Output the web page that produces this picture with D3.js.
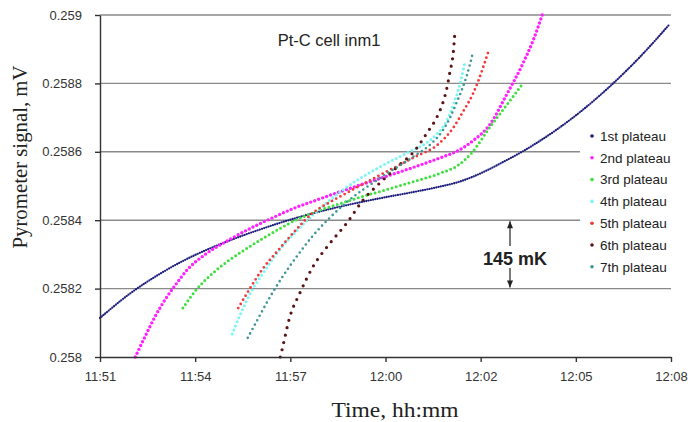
<!DOCTYPE html>
<meta charset="utf-8">
<style>
  body { margin: 0; background: #fff; }
  text { font-family: "Liberation Sans", Arial, sans-serif; fill: #222; }
  .serif { font-family: "Liberation Serif", "Times New Roman", serif; }
  .grid line { stroke: #8a8a8a; stroke-width: 1.4px; }
  .axis path, .axis line { stroke: #333; stroke-width: 1.4px; }
  .axis text { font-size: 13px; fill: #333; }
  .series { fill: none; stroke-linecap: round; }
</style>
<svg id="chart" width="691" height="422"></svg>
<script src="https://d3js.org/d3.v7.min.js"></script>
<script>
  // values: [time, pyrometer signal mV]
  var plateau1 = [["11:51:00",0.258114],["11:51:50",0.258181],["11:52:51",0.258247],["11:53:32",0.258284],
    ["11:54:13",0.258315],["11:54:49",0.258339],["11:55:32",0.258365],["11:56:25",0.258394],["11:57:20",0.258420],
    ["11:58:21",0.258444],["11:59:20",0.258464],["12:00:19",0.258482],["12:01:07",0.258498],["12:01:43",0.258513],
    ["12:02:06",0.258527],["12:03:07",0.258576],["12:03:36",0.258602],["12:04:06",0.258632],["12:05:05",0.258700],
    ["12:06:06",0.258784],["12:07:05",0.258878],["12:07:58",0.258974]];
  var plateau2 = [["11:52:03",0.258000],["11:52:20",0.258058],["11:52:38",0.258117],["11:52:56",0.258167],
    ["11:53:14",0.258209],["11:53:37",0.258257],["11:54:08",0.258300],["11:54:49",0.258341],["11:55:32",0.258379],
    ["11:56:07",0.258406],["11:56:48",0.258436],["11:57:20",0.258455],["11:58:21",0.258490],["11:59:20",0.258522],
    ["12:00:19",0.258554],["12:01:07",0.258582],["12:01:38",0.258602],["12:02:06",0.258632],["12:02:37",0.258681],
    ["12:03:05",0.258763],["12:03:36",0.258860],["12:03:54",0.258927],["12:04:10",0.259000]];
  var plateau3 = [["11:53:28",0.258143],["11:53:50",0.258193],["11:54:20",0.258243],["11:54:49",0.258281],
    ["11:55:19",0.258314],["11:55:49",0.258345],["11:56:25",0.258379],["11:56:48",0.258399],["11:57:20",0.258421],
    ["11:58:21",0.258455],["11:59:20",0.258484],["12:00:19",0.258512],["12:01:07",0.258537],["12:01:40",0.258561],
    ["12:02:06",0.258601],["12:02:37",0.258673],["12:03:07",0.258738],["12:03:36",0.258801]];
  var plateau4 = [["11:54:56",0.258067],["11:55:14",0.258137],["11:55:32",0.258196],["11:55:55",0.258254],
    ["11:56:22",0.258316],["11:56:48",0.258363],["11:57:20",0.258415],["11:57:51",0.258459],["11:58:21",0.258497],
    ["11:59:20",0.258556],["12:00:19",0.258605],["12:00:41",0.258624],["12:01:02",0.258652],["12:01:16",0.258681],
    ["12:01:27",0.258719],["12:01:36",0.258760],["12:01:43",0.258798],["12:01:48",0.258833],["12:01:52",0.258863]];
  var plateau5 = [["11:55:07",0.258143],["11:55:24",0.258190],["11:55:49",0.258254],["11:56:22",0.258319],
    ["11:56:48",0.258368],["11:57:20",0.258421],["11:57:51",0.258453],["11:58:21",0.258480],["11:59:20",0.258532],
    ["12:00:19",0.258582],["12:01:07",0.258626],["12:01:31",0.258670],["12:01:48",0.258716],["12:02:06",0.258769],
    ["12:02:15",0.258804],["12:02:24",0.258845],["12:02:33",0.258889]];
  var plateau6 = [["11:56:22",0.258000],["11:56:25",0.258020],["11:56:39",0.258117],["11:56:57",0.258187],
    ["11:57:20",0.258263],["11:57:51",0.258333],["11:58:21",0.258392],["11:58:50",0.258459],["11:59:20",0.258509],
    ["11:59:51",0.258556],["12:00:23",0.258605],["12:00:44",0.258655],["12:01:02",0.258702],["12:01:13",0.258746],
    ["12:01:20",0.258789],["12:01:25",0.258833],["12:01:31",0.258889],["12:01:34",0.258950]];
  var plateau7 = [["11:55:24",0.258056],["11:55:42",0.258111],["11:56:00",0.258165],["11:56:25",0.258232],
    ["11:56:52",0.258295],["11:57:20",0.258354],["11:57:51",0.258408],["11:58:21",0.258453],["11:59:20",0.258523],
    ["12:00:19",0.258585],["12:00:55",0.258629],["12:01:13",0.258664],["12:01:25",0.258699],["12:01:36",0.258740],
    ["12:01:47",0.258784],["12:01:56",0.258827],["12:02:01",0.258857],["12:02:06",0.258889]];

  var seriesNames = ["1st plateau","2nd plateau","3rd plateau","4th plateau","5th plateau","6th plateau","7th plateau"];
  var xTicks = ["11:51:00","11:53:50","11:56:40","11:59:30","12:02:20","12:05:10","12:08:00"];
  var yTicks = [0.258, 0.2582, 0.2584, 0.2586, 0.2588, 0.259];

  var colors = ["#1c1c7a","#ff22ff","#3ee03e","#7af5f5","#f23a3a","#5a1414","#3f9595"];
  var dotWidth = [2.3, 3.4, 3.0, 3.0, 2.8, 3.2, 2.6];
  var dotGap = [2.3, 4.2, 4.4, 4.4, 4.8, 7.5, 5.0];

  var svg = d3.select("#chart");
  var parseTime = d3.timeParse("%H:%M:%S");
  var plotLeft = 100, plotRight = 671, plotTop = 15, plotBottom = 357;

  var x = d3.scaleTime().domain([parseTime("11:51:00"), parseTime("12:08:00")]).range([plotLeft, plotRight]);
  var y = d3.scaleLinear().domain([0.258, 0.259]).range([plotBottom, plotTop]);

  // gridlines
  svg.append("g").attr("class", "grid")
    .selectAll("line").data(yTicks.slice(1)).enter().append("line")
    .attr("x1", plotLeft).attr("x2", plotRight)
    .attr("y1", function(d) { return y(d); }).attr("y2", function(d) { return y(d); });

  var line = d3.line()
    .curve(d3.curveMonotoneX)
    .x(function(d) { return x(parseTime(d[0])); })
    .y(function(d) { return y(d[1]); });

  var allSeries = [plateau1, plateau2, plateau3, plateau4, plateau5, plateau6, plateau7];
  svg.append("g").selectAll("path").data(allSeries).enter().append("path")
    .attr("class", "series")
    .attr("d", line)
    .style("stroke", function(d, i) { return colors[i]; })
    .style("stroke-width", function(d, i) { return dotWidth[i]; })
    .style("stroke-dasharray", function(d, i) { return "0 " + dotGap[i]; });

  // axes
  var fmt = d3.timeFormat("%H:%M");
  svg.append("g").attr("class", "axis")
    .attr("transform", "translate(0," + plotBottom + ")")
    .call(d3.axisBottom(x)
      .tickValues(xTicks.map(parseTime))
      .tickFormat(function(d) { return fmt(d3.timeMinute.round(d)); })
      .tickSize(5).tickSizeOuter(0).tickPadding(10));

  svg.append("g").attr("class", "axis")
    .attr("transform", "translate(" + plotLeft + ",0)")
    .call(d3.axisLeft(y)
      .tickValues(yTicks)
      .tickFormat(d3.format(".4~f"))
      .tickSize(5).tickSizeOuter(0).tickPadding(13));

  // legend
  var legendTop = 136, legendStep = 21.8;
  svg.append("rect").attr("x", 580).attr("y", 125).attr("width", 111).attr("height", 156).attr("fill", "#fff");
  var legend = svg.append("g").selectAll("g").data(seriesNames).enter().append("g")
    .attr("transform", function(d, i) { return "translate(592," + (legendTop + i * legendStep) + ")"; });
  legend.append("circle").attr("r", 1.8).attr("fill", function(d, i) { return colors[i]; });
  legend.append("text").attr("x", 8).attr("dy", "0.35em")
    .style("font-size", "13.5px").text(function(d) { return d; });

  // title
  svg.append("text").attr("x", 329).attr("y", 46).attr("text-anchor", "middle")
    .style("font-size", "16.5px").text("Pt-C cell inm1");

  // 145 mK annotation between two gridlines
  var ax = 510, a1 = y(0.2584) + 1, a2 = y(0.2582) - 1;
  svg.append("line").attr("x1", ax).attr("x2", ax).attr("y1", a1).attr("y2", a2)
    .attr("stroke", "#222").attr("stroke-width", 1.2);
  svg.append("path").attr("d", "M" + ax + "," + a1 + "l-3,7h6z").attr("fill", "#222");
  svg.append("path").attr("d", "M" + ax + "," + a2 + "l-3,-7h6z").attr("fill", "#222");
  svg.append("rect").attr("x", 482).attr("y", 246).attr("width", 67).attr("height", 22).attr("fill", "#fff");
  svg.append("text").attr("x", 515).attr("y", 265).attr("text-anchor", "middle")
    .style("font-size", "18px").style("font-weight", "bold").text("145 mK");

  // axis titles
  svg.append("text").attr("class", "serif").attr("x", 395).attr("y", 417).attr("text-anchor", "middle")
    .attr("textLength", 127).attr("lengthAdjust", "spacingAndGlyphs")
    .style("font-size", "22px").text("Time, hh:mm");
  svg.append("text").attr("class", "serif")
    .attr("transform", "translate(27,157) rotate(-90)").attr("text-anchor", "middle")
    .attr("textLength", 183).attr("lengthAdjust", "spacingAndGlyphs")
    .style("font-size", "21px").text("Pyrometer signal, mV");
</script>
